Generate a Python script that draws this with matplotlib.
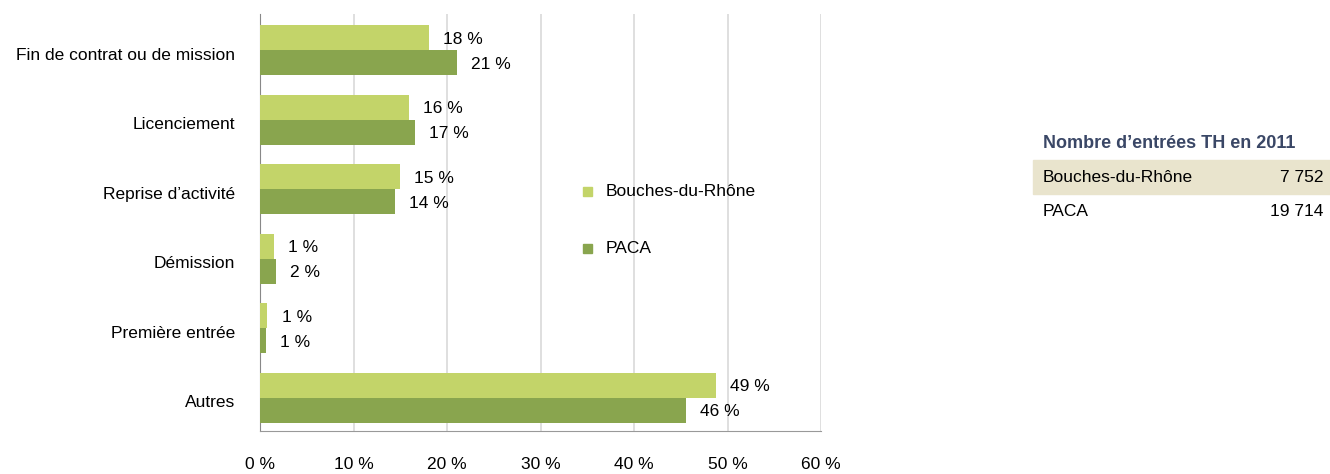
import matplotlib.pyplot as plt
from matplotlib.patches import Rectangle
import matplotlib.transforms as mtransforms
import numpy as np

plt.rcParams['font.family'] = ['Liberation Sans', 'DejaVu Sans']
FS = 12.5

categories = ["Fin de contrat ou de mission", "Licenciement", "Reprise d\u2019activit\u00e9",
              "D\u00e9mission", "Premi\u00e8re entr\u00e9e", "Autres"]
bdr = [18.1, 15.9, 15.0, 1.5, 0.8, 48.8]
paca = [21.1, 16.6, 14.4, 1.7, 0.6, 45.6]
bdr_labels = ["18 %", "16 %", "15 %", "1 %", "1 %", "49 %"]
paca_labels = ["21 %", "17 %", "14 %", "2 %", "1 %", "46 %"]
xticks = [0, 10, 20, 30, 40, 50, 60]

table_title = "Nombre d\u2019entr\u00e9es TH en 2011"
table_rows = ["Bouches-du-Rh\u00f4ne", "PACA"]
table_vals = ["7 752", "19 714"]

c_bdr = '#c3d469'
c_paca = '#89a54e'

fig = plt.figure(figsize=(13.3, 4.74), dpi=100)
ax = fig.add_axes([260/1330, 1-431/474, (821-260)/1330, (431-14)/474])

y = np.arange(len(categories))
h = 0.36
ax.barh(y - h/2 + 0.02, bdr, height=h, color=c_bdr, zorder=3)
ax.barh(y + h/2 + 0.02, paca, height=h, color=c_paca, zorder=3)

for i in range(len(categories)):
    ax.text(bdr[i] + 1.5, y[i] - h/2 + 0.04, bdr_labels[i], va='center', ha='left', fontsize=FS)
    ax.text(paca[i] + 1.5, y[i] + h/2 + 0.04, paca_labels[i], va='center', ha='left', fontsize=FS)

ax.set_ylim(5.5, -0.5)
ax.set_xlim(0, 60)
ax.set_yticks(y)
ax.set_yticklabels(categories, fontsize=FS)
ax.set_xticks(xticks)
ax.set_xticklabels([f"{t} %" for t in xticks], fontsize=FS)
ax.tick_params(axis='y', length=0, pad=18)
ax.tick_params(axis='x', length=0, pad=19)
# category labels sit a little below the group centre, as in the original
shift = mtransforms.ScaledTranslation(0, -5/100, fig.dpi_scale_trans)
for lab in ax.get_yticklabels():
    lab.set_transform(lab.get_transform() + shift)
ax.grid(axis='x', color='#d9d9d9', linewidth=1.2, zorder=0)
ax.spines['top'].set_visible(False)
ax.spines['right'].set_visible(False)
ax.spines['left'].set_color('#888888')
ax.spines['bottom'].set_color('#999999')

# legend
fig.patches.append(Rectangle((583/1330, 1-196/474), 9/1330, 9/474, color=c_bdr, transform=fig.transFigure))
fig.patches.append(Rectangle((583/1330, 1-253/474), 9/1330, 9/474, color=c_paca, transform=fig.transFigure))
fig.text(606/1330, 1-192/474, "Bouches-du-Rh\u00f4ne", fontsize=FS, va='center')
fig.text(606/1330, 1-248/474, "PACA", fontsize=FS, va='center')

# small table
fig.text(1043/1330, 1-143/474, table_title, fontsize=13, fontweight='bold', color='#3a4766', va='center')
fig.patches.append(Rectangle((1033/1330, 1-194/474), 297/1330, 34/474, color='#e9e4cd', transform=fig.transFigure))
for i, (name, val) in enumerate(zip(table_rows, table_vals)):
    yy = 1 - (177 + i*35)/474
    fig.text(1043/1330, yy, name, fontsize=FS, va='center')
    fig.text(1323/1330, yy, val, fontsize=FS, va='center', ha='right')

plt.savefig('out.png', dpi=100)
